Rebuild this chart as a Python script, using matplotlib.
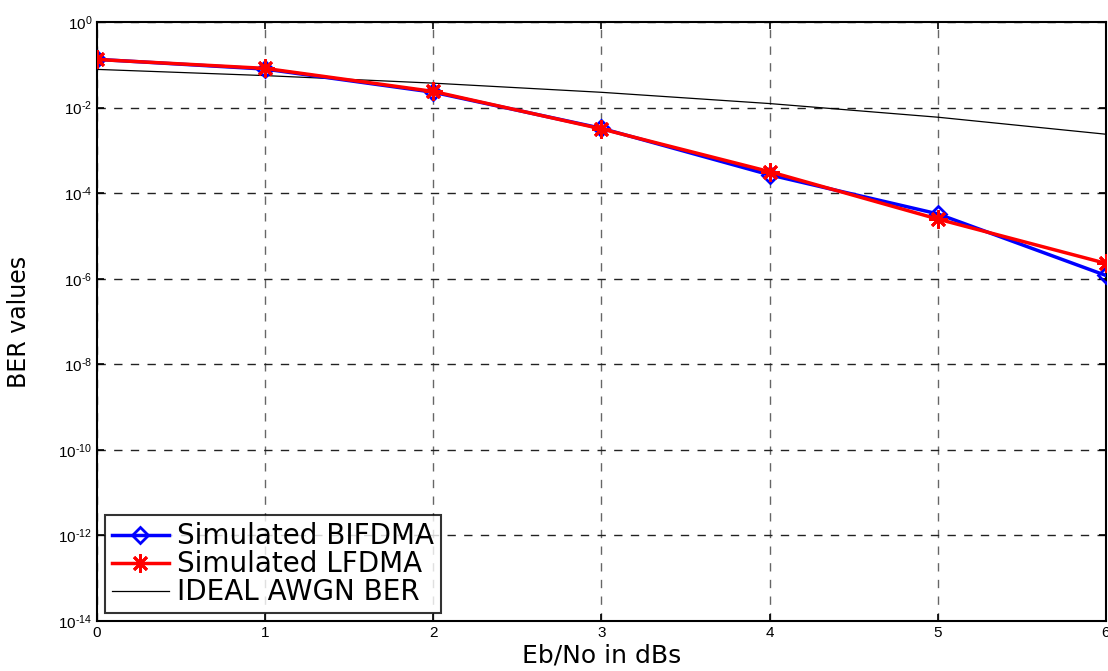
import matplotlib
matplotlib.use("Agg")
import matplotlib.pyplot as plt
from matplotlib.ticker import FixedLocator, NullLocator

plt.rcParams['font.family'] = ['Liberation Sans', 'DejaVu Sans']
plt.rcParams['mathtext.fontset'] = 'custom'
plt.rcParams['mathtext.rm'] = 'Liberation Sans'
plt.rcParams['mathtext.it'] = 'Liberation Sans'

ebno = [0, 1, 2, 3, 4, 5, 6]
ber_bifdma = [0.135, 0.080, 0.023, 0.0033, 2.7e-4, 3.3e-5, 1.2e-6]
ber_lfdma = [0.134, 0.083, 0.024, 0.0032, 3.2e-4, 2.5e-5, 2.3e-6]
ber_awgn = [0.0786, 0.0563, 0.0375, 0.0229, 0.0125, 0.0060, 0.0024]

yticks = [1e-14, 1e-12, 1e-10, 1e-8, 1e-6, 1e-4, 1e-2, 1e0]
yexps = ['-14', '-12', '-10', '-8', '-6', '-4', '-2', '0']
HY = '\u2010'
ytick_labels = ['$10^{%s}$' % e.replace('-', HY) for e in yexps]

fig = plt.figure(figsize=(11.08, 6.71), dpi=100)
ax = fig.add_axes([0.0875, 0.0745, 0.9105, 0.8925])

ax.semilogy(ebno, ber_bifdma, color='blue', lw=2.5, marker='D', ms=8,
            mfc='none', mec='blue', mew=2, label='Simulated BIFDMA', zorder=3)
ax.semilogy(ebno, ber_lfdma, color='red', lw=2.5, marker=(8, 2, 0), ms=13,
            mfc='red', mec='red', mew=2, label='Simulated LFDMA', zorder=4)
ax.semilogy(ebno, ber_awgn, color='black', lw=0.9, label='IDEAL AWGN BER', zorder=2)

ax.set_xlim(0, 6)
ax.set_ylim(1e-14, 1e0)
ax.set_xticks(ebno)
ax.yaxis.set_major_locator(FixedLocator(yticks))
ax.yaxis.set_minor_locator(NullLocator())
ax.set_yticklabels(ytick_labels)
ax.tick_params(axis='both', which='major', direction='in', labelsize=11,
               top=True, right=True, length=5, width=1.2)
ax.xaxis.grid(True, linestyle=(0, (6, 6)), color='#666666', lw=1.0)
ax.yaxis.grid(True, linestyle=(0, (6, 6)), color='#222222', lw=1.0)

for s in ax.spines.values():
    s.set_linewidth(1.5)

ax.set_xlabel('Eb/No in dBs', fontsize=18, family='DejaVu Sans')
ax.xaxis.set_label_coords(0.5, -0.038)
ax.set_ylabel('BER values', fontsize=17, family='DejaVu Sans')
ax.yaxis.set_label_coords(-0.065, 0.5)

leg = ax.legend(loc='lower left', prop={'family': 'DejaVu Sans', 'size': 20},
                frameon=True, fancybox=False, edgecolor='black',
                borderaxespad=0.28, handlelength=2.05, borderpad=0.25,
                labelspacing=0.0, handletextpad=0.3)
leg.get_frame().set_linewidth(1.5)

fig.savefig('out.png', dpi=100)
